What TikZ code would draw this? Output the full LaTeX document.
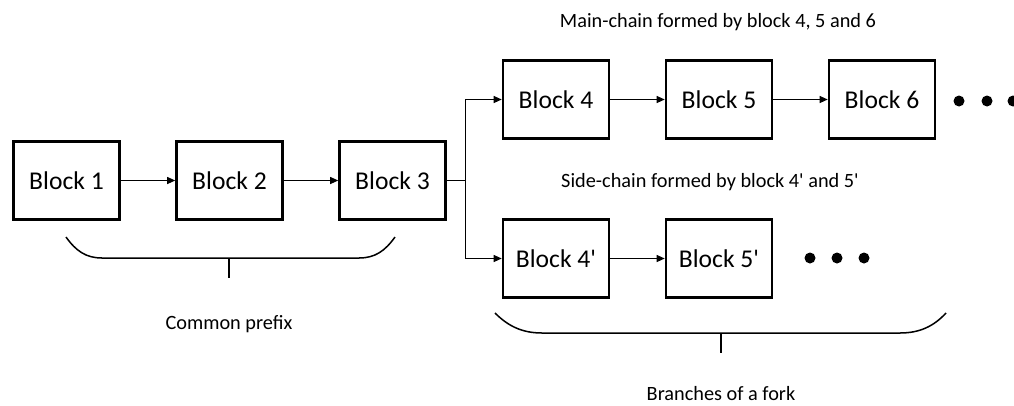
\documentclass[tikz,border=0pt]{standalone}
\usepackage{fontspec}
\setmainfont{Carlito}
\usetikzlibrary{arrows.meta}
\begin{document}
\begin{tikzpicture}[x=1pt,y=-1pt,
  blk/.style={draw,line width=2.6pt,minimum width=106pt,minimum height=78pt,inner sep=0pt,font=\fontsize{25.6}{28}\selectfont},
  lbl/.style={font=\fontsize{20.3}{23}\selectfont,inner sep=0pt},
  con/.style={line width=1pt,-{Triangle[length=8pt,width=7pt]}},
  brc/.style={line width=1.5pt},
  dot/.style={fill,circle,inner sep=0pt,minimum size=11pt}]
\useasboundingbox (0,0) rectangle (1014,405);
\node[blk] (b1) at (66.5,180.5) {Block 1};
\node[blk] (b2) at (229.5,180.5) {Block 2};
\node[blk] (b3) at (392.5,180.5) {Block 3};
\node[blk] (b4) at (556,99.5) {Block 4};
\node[blk] (b5) at (719,99.5) {Block 5};
\node[blk] (b6) at (882,99.5) {Block 6};
\node[blk] (b4p) at (556,258.5) {Block 4\textquotesingle};
\node[blk] (b5p) at (719,258.5) {Block 5\textquotesingle};
\draw[con] (b1) -- (b2);
\draw[con] (b2) -- (b3);
\coordinate (j) at (465,180.5);
\draw[line width=1pt] (b3.east) -- (j);
\draw[con] (j) |- (b4.west);
\draw[con] (j) |- (b4p.west);
\draw[con] (b4) -- (b5);
\draw[con] (b5) -- (b6);
\draw[con] (b4p) -- (b5p);
\node[dot] (d1) at (959,101) {};
\node[dot] (d2) at (987,101) {};
\node[dot] (d3) at (1013,101) {};
\node[dot] (e1) at (810,258) {};
\node[dot] (e2) at (837,258) {};
\node[dot] (e3) at (864,258) {};
\node[lbl] (tmain) at (718,22) {Main-chain formed by block 4, 5 and 6};
\node[lbl] (tside) at (710,182) {Side-chain formed by block 4\textquotesingle{} and 5\textquotesingle};
\node[lbl] (tcom) at (229,324) {Common prefix};
\node[lbl] (tbr) at (721,394) {Branches of a fork};
% brace 1
\draw[brc] (66,237) .. controls (76,251) and (86,258) .. (102,258) -- (359,258)
  .. controls (375,258) and (385,251) .. (395,237);
\draw[brc] (229,258) -- (229,278);
% brace 2
\draw[brc] (495,313) .. controls (508,326) and (522,333) .. (542,333) -- (900,333)
  .. controls (920,333) and (934,326) .. (946,313);
\draw[brc] (721,333) -- (721,353);
\end{tikzpicture}
\end{document}
